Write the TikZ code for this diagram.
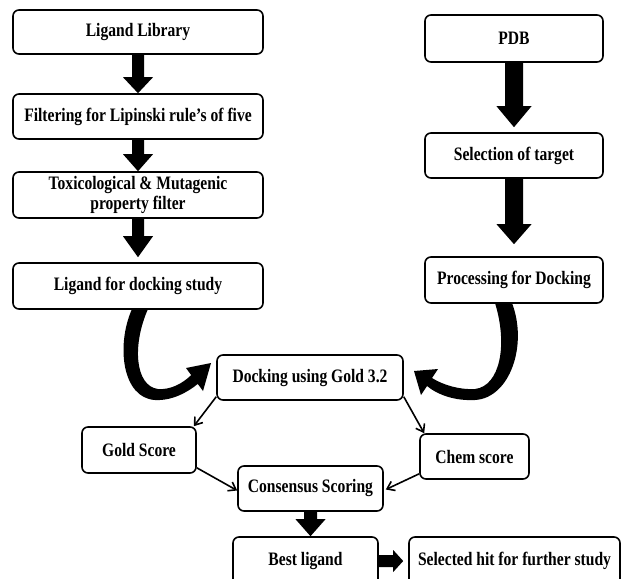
\documentclass[tikz,border=0pt]{standalone}
\usepackage{fontspec}
\setmainfont{Liberation Serif}[FakeStretch=0.82]
\usetikzlibrary{arrows.meta,calc}
\tikzset{
  box/.style={draw=black, line width=1.6pt, rounded corners=6pt, fill=white,
    inner sep=0pt, align=center, font=\fontsize{19}{20}\selectfont\bfseries},
  thinarrow/.style={line width=1.6pt, -{Straight Barb[length=7pt,width=10pt,line width=1.6pt]}},
}
\newcommand\blkdown[5]{%
  \fill let \p1=(#1), \p2=(#2) in (\x1-#3,\y1) -- (\x1-#3,\y2+#5) -- (\x1-#4,\y2+#5)
    -- (\x1,\y2) -- (\x1+#4,\y2+#5) -- (\x1+#3,\y2+#5) -- (\x1+#3,\y1) -- cycle;}
\newcommand\blkright[5]{%
  \fill let \p1=(#1), \p2=(#2) in (\x1,\y1-#3) -- (\x2-#5,\y1-#3) -- (\x2-#5,\y1-#4)
    -- (\x2,\y1) -- (\x2-#5,\y1+#4) -- (\x2-#5,\y1+#3) -- (\x1,\y1+#3) -- cycle;}
\begin{document}
\begin{tikzpicture}[x=1pt,y=-1pt]
\useasboundingbox (0,0) rectangle (625,579);
\clip (0,0) rectangle (625,579);
\fill[white] (0,0) rectangle (625,579);
% left column
\node[box, minimum width=250pt, minimum height=44pt] (lib) at (138,32) {Ligand Library};
\node[box, minimum width=250pt, minimum height=45pt] (filt) at (138,116.5) {Filtering for Lipinski rule's of five};
\node[box, minimum width=250pt, minimum height=46pt] (tox) at (138,195) {Toxicological \& Mutagenic\\property filter};
\node[box, minimum width=250pt, minimum height=46pt] (lfd) at (138,286) {Ligand for docking study};
% right column
\node[box, minimum width=178pt, minimum height=47pt] (pdb) at (514,38.5) {PDB};
\node[box, minimum width=178pt, minimum height=45pt] (sel) at (514,155.5) {Selection of target};
\node[box, minimum width=178pt, minimum height=46pt] (proc) at (514,280) {Processing for Docking};
% lower part
\node[box, minimum width=186pt, minimum height=45pt] (dock) at (310,377.5) {Docking using Gold 3.2};
\node[box, minimum width=114pt, minimum height=46pt] (gold) at (139,450) {Gold Score};
\node[box, minimum width=109pt, minimum height=45pt] (chem) at (474.5,456.5) {Chem score};
\node[box, minimum width=145pt, minimum height=45pt] (cons) at (310.5,488.5) {Consensus Scoring};
\node[box, minimum width=145pt, minimum height=48pt] (best) at (305.5,561) {Best ligand};
\node[box, minimum width=211pt, minimum height=48pt] (hit) at (514.5,561) {Selected hit for further study};
% block arrows
\blkdown{lib.south}{filt.north}{6pt}{15pt}{16pt}
\blkdown{filt.south}{tox.north}{6pt}{15pt}{17pt}
\blkdown{tox.south}{[yshift=5pt]lfd.north}{6pt}{15pt}{21pt}
\blkdown{pdb.south}{[yshift=5pt]sel.north}{9pt}{17.5pt}{21pt}
\blkdown{sel.south}{[yshift=12pt]proc.north}{9pt}{17.5pt}{20pt}
\blkdown{cons.south}{best.north}{6.5pt}{15pt}{17pt}
\blkright{best.east}{[xshift=-5pt]hit.west}{6pt}{11pt}{10pt}
% curved arrows
\fill (132,309) .. controls (116,345) and (122,398) .. (155,400)
  .. controls (172,401) and (188,392) .. (197.8,383.9) -- (203,391) -- (211,363) -- (186,368)
  -- (191.2,375.1) .. controls (182,384) and (170,390) .. (158,389)
  .. controls (135,386) and (132,345) .. (148,309) -- cycle;
\fill (512,303) .. controls (528,345) and (510,398) .. (475,400)
  .. controls (455,401) and (438,395) .. (427,386) -- (421,395) -- (414,371) -- (438,369)
  -- (432,378) .. controls (443,385) and (460,390) .. (475,389)
  .. controls (500,386) and (508,345) .. (495,303) -- cycle;
% thin arrows
\draw[thinarrow] ([yshift=4pt]dock.south west) -- ([xshift=-3pt]gold.north east);
\draw[thinarrow] ([yshift=4pt]dock.south east) -- ([xshift=5pt]chem.north west);
\draw[thinarrow] ([yshift=6pt]gold.south east) -- ([yshift=-2pt]cons.west);
\draw[thinarrow] ([yshift=6pt]chem.south west) -- ([yshift=-1pt,xshift=2pt]cons.east);
\end{tikzpicture}
\end{document}
